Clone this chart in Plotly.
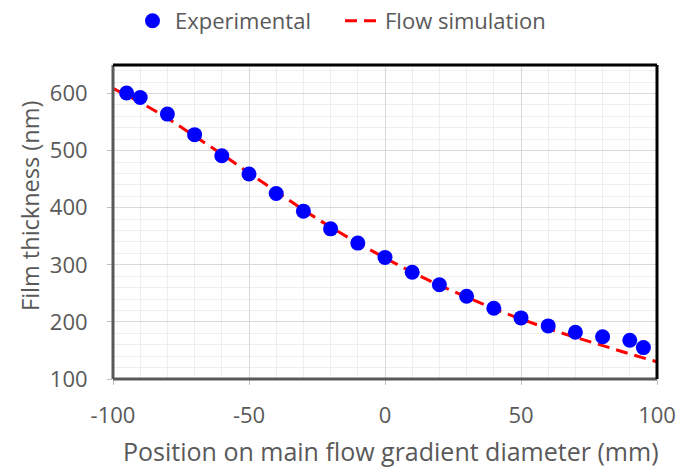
import plotly.graph_objects as go

exp_x = [-95, -90, -80, -70, -60, -50, -40, -30, -20, -10, 0, 10, 20, 30, 40, 50, 60, 70, 80, 90, 95]
exp_y = [601, 593, 564, 528, 491, 459, 425, 394, 363, 338, 313, 287, 265, 245, 224, 207, 193, 182, 174, 168, 155]

sim_x = [-100, -90, -80, -70, -60, -50, -40, -30, -20, -10, 0, 10, 20, 30, 40, 50, 60, 70, 80, 90, 100]
sim_y = [609, 585, 557, 526, 494, 461, 428, 396, 366, 338, 312, 287, 264, 243, 223, 205, 188, 173, 158, 144, 130]

x_ticks = [-100, -50, 0, 50, 100]
x_ticktext = ["-100", "-50", "0", "50", "100"]
y_ticks = [100, 200, 300, 400, 500, 600]

x_title = "Position on main flow gradient diameter (mm)"
y_title = "Film thickness (nm)"

FONT = "Open Sans"
GRAY = "#595959"

fig = go.Figure()
fig.add_trace(go.Scatter(x=sim_x, y=sim_y, mode="lines", name="Flow simulation",
                         line=dict(color="#ff0000", width=3, dash="12px,7px")))
fig.add_trace(go.Scatter(x=exp_x, y=exp_y, mode="markers", name="Experimental",
                         marker=dict(color="#0000ff", size=15, line=dict(width=0))))

fig.update_layout(
    width=677, height=469,
    margin=dict(l=113, r=20, t=65, b=90, autoexpand=False),
    paper_bgcolor="white", plot_bgcolor="white",
    font=dict(family=FONT, color=GRAY, size=16),
    showlegend=True,
    legend=dict(orientation="h", xref="container", x=130 / 677, xanchor="left",
                yref="container", y=1 - 21 / 469, yanchor="middle",
                traceorder="reversed", font=dict(size=22, color=GRAY),
                itemwidth=35, entrywidth=160, entrywidthmode="pixels",
                bgcolor="rgba(0,0,0,0)"),
)
fig.update_xaxes(range=[-100, 100], tickvals=x_ticks, ticktext=x_ticktext,
                 ticks="outside", ticklen=5, ticklabelstandoff=12,
                 tickcolor="#bfbfbf", showgrid=True, gridcolor="#d9d9d9", gridwidth=1,
                 minor=dict(dtick=10, showgrid=True, gridcolor="#eeeeee", gridwidth=1),
                 zeroline=False, showline=False, automargin=False,
                 tickfont=dict(size=22, color=GRAY))
fig.update_yaxes(range=[100, 650], tickvals=y_ticks, ticks="outside", ticklen=5,
                 ticklabelstandoff=15,
                 tickcolor="#bfbfbf", showgrid=True, gridcolor="#d9d9d9", gridwidth=1,
                 minor=dict(dtick=20, tick0=100, showgrid=True, gridcolor="#eeeeee", gridwidth=1),
                 zeroline=False, showline=False, automargin=False,
                 tickfont=dict(size=22, color=GRAY))

# axis titles placed as annotations
fig.add_annotation(text=x_title, xref="paper", yref="paper", x=(391 - 113) / 544, y=(379 - 451) / 314,
                   xanchor="center", yanchor="middle", showarrow=False,
                   font=dict(size=25, color=GRAY, family=FONT))
fig.add_annotation(text=y_title, xref="paper", yref="paper", x=(30 - 113) / 544, y=(379 - 206) / 314,
                   xanchor="center", yanchor="middle", showarrow=False, textangle=-90,
                   font=dict(size=23.5, color=GRAY, family=FONT))

# frame: gray left/bottom, black top/right
fig.add_shape(type="line", xref="paper", yref="paper", x0=0, x1=0, y0=0, y1=1, line=dict(color="#595959", width=3))
fig.add_shape(type="line", xref="paper", yref="paper", x0=0, x1=1, y0=0, y1=0, line=dict(color="#595959", width=3))
fig.add_shape(type="line", xref="paper", yref="paper", x0=0, x1=1, y0=1, y1=1, line=dict(color="#000000", width=3))
fig.add_shape(type="line", xref="paper", yref="paper", x0=1, x1=1, y0=0, y1=1, line=dict(color="#000000", width=3))

fig.write_html("out.html")
